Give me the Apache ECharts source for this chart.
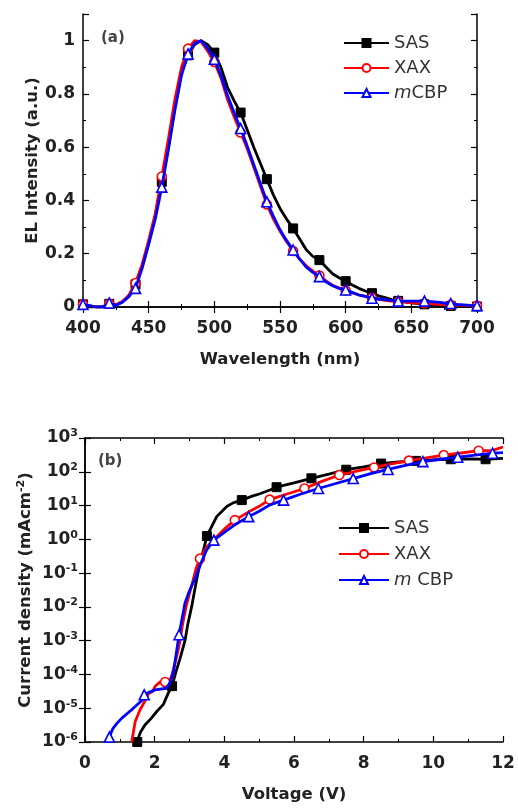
<!DOCTYPE html>
<html><head><meta charset="utf-8">
<script src="https://cdn.jsdelivr.net/npm/echarts@6/dist/echarts.min.js"></script>
<style>html,body{margin:0;padding:0;background:#fff}#c{width:518px;height:808px}</style>
</head><body><div id="c"></div>
<script>
// ---------- Panel (a): EL spectra ----------
const wavelength = [400,405,410,415,420,425,430,435,440,445,450,455,460,465,470,475,480,485,490,495,500,505,510,515,520,525,530,535,540,545,550,555,560,565,570,575,580,585,590,595,600,605,610,615,620,625,630,635,640,645,650,655,660,665,670,675,680,685,690,695,700];
const elSAS = [0.01,0,0,0,0.012,0.008,0.02,0.04,0.085,0.15,0.24,0.34,0.47,0.60,0.75,0.88,0.945,0.985,1.0,0.985,0.955,0.90,0.825,0.775,0.73,0.665,0.60,0.54,0.48,0.42,0.37,0.33,0.295,0.255,0.215,0.19,0.176,0.15,0.125,0.11,0.097,0.083,0.07,0.06,0.052,0.042,0.035,0.028,0.023,0.019,0.016,0.013,0.01,0.008,0.006,0.005,0.004,0.003,0.003,0.002,0.002];
const elXAX = [0.01,0.005,0,0,0.012,0.008,0.02,0.045,0.09,0.16,0.25,0.35,0.49,0.63,0.78,0.90,0.97,1.0,0.995,0.96,0.92,0.86,0.78,0.715,0.655,0.595,0.525,0.455,0.385,0.33,0.285,0.245,0.21,0.18,0.155,0.135,0.118,0.098,0.082,0.071,0.062,0.053,0.046,0.04,0.035,0.03,0.025,0.022,0.02,0.018,0.016,0.015,0.014,0.012,0.01,0.009,0.008,0.007,0.006,0.005,0.005];
const elMCBP = [0.01,0.005,0,0,0.015,0.006,0.018,0.04,0.07,0.145,0.235,0.33,0.45,0.59,0.74,0.87,0.95,0.99,1.0,0.97,0.93,0.87,0.795,0.73,0.67,0.605,0.535,0.465,0.395,0.34,0.29,0.25,0.214,0.18,0.15,0.13,0.114,0.095,0.08,0.07,0.064,0.055,0.045,0.04,0.033,0.03,0.028,0.025,0.022,0.022,0.022,0.022,0.022,0.02,0.018,0.015,0.013,0.01,0.008,0.006,0.005];
const wlMarkerStep = 20;
const xTicksA = {min: 400, max: 700, interval: 50};
const yTicksA = {min: 0, max: 1.1, interval: 0.2};

// ---------- Panel (b): J-V ----------
const vSAS = [1.5,1.55,1.6,1.72,1.9,2.06,2.25,2.39,2.5,2.6,2.73,2.87,2.95,3.06,3.2,3.3,3.4,3.5,3.6,3.78,4.07,4.25,4.5,4.8,5.0,5.31,5.5,6.0,6.5,7.0,7.5,8.0,8.5,9.0,9.5,10.0,10.5,11.0,11.5,12.0];
const jSAS = [1e-6,1.5e-6,2e-6,3.2e-6,5e-6,8e-6,1.3e-5,2.8e-5,4.5e-5,1.1e-4,3e-4,1e-3,3e-3,1e-2,6e-2,0.2,0.48,1.25,2.0,4.7,9.4,12,14.5,19,22,29,35,47,64,85,115,140,175,195,210,225,235,240,235,250];
const markSAS = [1.5,2.5,3.5,4.5,5.5,6.5,7.5,8.5,9.5,10.5,11.5];
const vXAX = [1.34,1.44,1.58,1.7,1.82,1.95,2.01,2.15,2.3,2.39,2.5,2.6,2.7,2.8,2.9,3.0,3.1,3.2,3.3,3.5,3.78,4.0,4.3,4.7,5.0,5.3,5.8,6.3,6.8,7.3,7.8,8.3,8.8,9.3,9.8,10.3,10.8,11.3,11.7,12.0];
const jXAX = [1e-6,4e-6,9e-6,1.5e-5,2.7e-5,3.2e-5,4.4e-5,6e-5,6e-5,4.9e-5,1e-4,2.5e-4,7e-4,3e-3,1e-2,2.5e-2,6e-2,0.15,0.27,0.6,1.2,2.0,3.7,6.5,9.5,15,22,32,52,80,105,134,170,214,260,313,360,420,430,540];
const markXAX = [2.3,3.3,4.3,5.3,6.3,7.3,8.3,9.3,10.3,11.3];
const vMCBP = [0.7,0.8,0.91,1.05,1.34,1.63,1.7,1.85,2.01,2.34,2.45,2.54,2.6,2.7,2.87,3.0,3.16,3.35,3.49,3.7,4.0,4.3,4.7,5.0,5.31,5.7,6.2,6.7,7.2,7.7,8.2,8.7,9.2,9.7,10.2,10.7,11.2,11.7,12.0];
const jMCBP = [1.4e-6,2.5e-6,3.5e-6,5e-6,9e-6,1.7e-5,2.5e-5,3e-5,3.5e-5,3.9e-5,6e-5,1.2e-4,3e-4,1.5e-3,1.3e-2,3e-2,0.07,0.22,0.48,0.95,1.6,2.7,4.7,6.8,10.5,14.5,22,32,45,63,88,117,155,200,235,270,310,355,370];
const markMCBP = [0.7,1.7,2.7,3.7,4.7,5.7,6.7,7.7,8.7,9.7,10.7,11.7];
const xTicksB = {min: 0, max: 12, interval: 2};
const yTicksB = {min: 1e-6, max: 1e3};

const seriesNames = ['SAS','XAX','mCBP'];
const colors = ['#000000','#ff0000','#0000ff'];

const FONT = 'DejaVu Sans';
const pair = (xs, ys) => xs.map((x, i) => [x, ys[i]]);
const near = (list, v) => list.some(m => Math.abs(m - v) < 1e-6);

const symbols = ['rect','circle','triangle'];
const symSizes = [9, 9, 10];
function styleFor(i) {
  return i === 0
    ? {color: colors[i], borderColor: colors[i], borderWidth: 1}
    : {color: '#ffffff', borderColor: colors[i], borderWidth: 1.6};
}

const axisLineStyle = {lineStyle: {color: '#000', width: 1.5}};
const labelStyle = {fontFamily: FONT, fontSize: 17, fontWeight: 'bold', color: '#222'};
const nameStyle = {fontFamily: FONT, fontSize: 16.5, fontWeight: 'bold', color: '#222'};
const legendText = {fontFamily: FONT, fontSize: 18, color: '#333',
  rich: {i: {fontFamily: FONT, fontSize: 18, fontStyle: 'italic', color: '#333'}}};

function mainX(grid, t, name, gap) {
  return {type: 'value', gridIndex: grid, position: 'bottom', min: t.min, max: t.max, interval: t.interval,
    axisLine: axisLineStyle, axisTick: {inside: true, length: 6, lineStyle: {color: '#000', width: 1.2}},
    minorTick: {show: true, splitNumber: 2, length: 3, lineStyle: {color: '#000', width: 1}},
    axisLabel: Object.assign({margin: 13}, labelStyle), splitLine: {show: false},
    name: name, nameLocation: 'middle', nameGap: gap, nameMoveOverlap: false, nameTextStyle: nameStyle};
}
function mirrorX(grid, t) {
  return {type: 'value', gridIndex: grid, position: 'top', min: t.min, max: t.max, interval: t.interval,
    axisLine: axisLineStyle, axisTick: {inside: true, length: 6, lineStyle: {color: '#000', width: 1.2}},
    minorTick: {show: true, splitNumber: 2, length: 3, lineStyle: {color: '#000', width: 1}},
    axisLabel: {show: false}, splitLine: {show: false}};
}

const option = {
  animation: false,
  backgroundColor: '#ffffff',
  title: [
    {text: '(a)', left: 96, top: 26, textStyle: {fontFamily: FONT, fontSize: 15, fontWeight: 'bold', color: '#444'}},
    {text: '(b)', left: 93, top: 449, textStyle: {fontFamily: FONT, fontSize: 15, fontWeight: 'bold', color: '#444'}}
  ],
  grid: [
    {left: 83, right: 41, top: 14, height: 293},
    {left: 85, right: 15, top: 438, height: 304}
  ],
  legend: [
    {orient: 'vertical', left: 343, top: 34, padding: 0, itemWidth: 45, itemHeight: 10, itemGap: 7,
     data: seriesNames, textStyle: legendText,
     formatter: n => n === 'mCBP' ? '{i|m}CBP' : n},
    {orient: 'vertical', left: 338, top: 519, padding: 0, itemWidth: 50, itemHeight: 10, itemGap: 8,
     data: seriesNames, textStyle: legendText,
     formatter: n => n === 'mCBP' ? '{i|m} CBP' : n}
  ],
  xAxis: [
    mainX(0, xTicksA, 'Wavelength (nm)', 44),
    mirrorX(0, xTicksA),
    mainX(1, xTicksB, 'Voltage (V)', 44),
    mirrorX(1, xTicksB)
  ],
  yAxis: [
    {type: 'value', gridIndex: 0, position: 'left', min: yTicksA.min, max: yTicksA.max, interval: yTicksA.interval,
     axisLine: axisLineStyle, axisTick: {inside: true, length: 6, lineStyle: {color: '#000', width: 1.2}},
     minorTick: {show: true, splitNumber: 2, length: 3, lineStyle: {color: '#000', width: 1}},
     axisLabel: Object.assign({margin: 8, formatter: v => (v > 1.05 ? '' : String(+v.toFixed(1)))}, labelStyle),
     splitLine: {show: false},
     name: 'EL Intensity (a.u.)', nameLocation: 'middle', nameGap: 42, nameMoveOverlap: false, nameTextStyle: nameStyle},
    {type: 'value', gridIndex: 0, position: 'right', min: yTicksA.min, max: yTicksA.max, interval: yTicksA.interval,
     axisLine: axisLineStyle, axisTick: {inside: true, length: 6, lineStyle: {color: '#000', width: 1.2}},
     minorTick: {show: true, splitNumber: 2, length: 3, lineStyle: {color: '#000', width: 1}},
     axisLabel: {show: false}, splitLine: {show: false}},
    {type: 'log', logBase: 10, gridIndex: 1, position: 'left', min: yTicksB.min, max: yTicksB.max, splitNumber: 9,
     axisLine: axisLineStyle, axisTick: {inside: true, length: 6, lineStyle: {color: '#000', width: 1.2}},
     axisLabel: Object.assign({margin: 7, formatter: v => '10{sup|' + Math.round(Math.log10(v)) + '}',
       rich: {sup: {fontFamily: FONT, fontSize: 11, fontWeight: 'bold', color: '#222', padding: [0, 0, 9, 0]}}}, labelStyle),
     splitLine: {show: false},
     name: 'Current density (mAcm{sup|-2})', nameLocation: 'middle', nameGap: 49, nameMoveOverlap: false,
     nameTextStyle: Object.assign({rich: {sup: {fontFamily: FONT, fontSize: 11, fontWeight: 'bold', color: '#222', padding: [0, 0, 9, 0]}}}, nameStyle)},
    {type: 'log', logBase: 10, gridIndex: 1, position: 'right', min: yTicksB.min, max: yTicksB.max, splitNumber: 9,
     axisLine: axisLineStyle, axisTick: {inside: true, length: 6, lineStyle: {color: '#000', width: 1.2}},
     axisLabel: {show: false}, splitLine: {show: false}}
  ],
  series: []
};

const elData = [elSAS, elXAX, elMCBP];
seriesNames.forEach((n, i) => {
  option.series.push({
    name: n, type: 'line', xAxisIndex: 0, yAxisIndex: 0,
    data: pair(wavelength, elData[i]),
    symbol: symbols[i], showAllSymbol: true,
    symbolSize: (val) => ((val[0] - wavelength[0]) % wlMarkerStep === 0 ? symSizes[i] : 0),
    lineStyle: {color: colors[i], width: 2.8}, itemStyle: styleFor(i), z: 2 + i
  });
});
const jvV = [vSAS, vXAX, vMCBP];
const jvJ = [jSAS, jXAX, jMCBP];
const jvMarks = [markSAS, markXAX, markMCBP];
seriesNames.forEach((n, i) => {
  option.series.push({
    name: n, type: 'line', xAxisIndex: 2, yAxisIndex: 2,
    data: pair(jvV[i], jvJ[i]),
    symbol: symbols[i], showAllSymbol: true,
    symbolSize: (val) => (near(jvMarks[i], val[0]) ? symSizes[i] : 0),
    lineStyle: {color: colors[i], width: 2.8}, itemStyle: styleFor(i), z: 2 + i
  });
});

const chart = echarts.init(document.getElementById('c'), null, {renderer: 'canvas'});
chart.setOption(option);
</script></body></html>
